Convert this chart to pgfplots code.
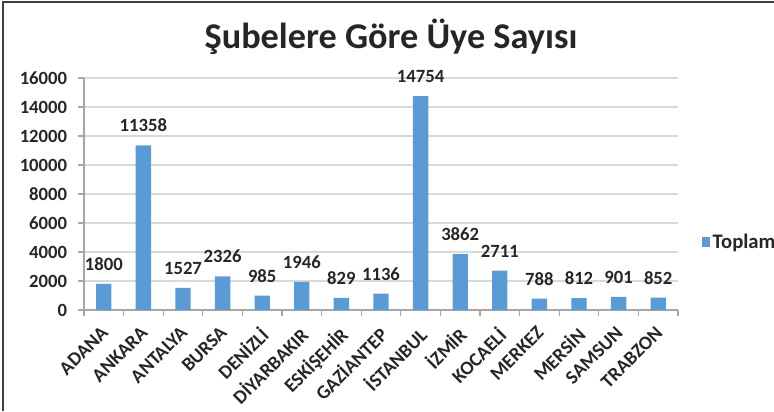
\documentclass[border=0pt]{standalone}
\usepackage{pgfplots}
\pgfplotsset{compat=1.18}
\usepackage{fontspec}
\setmainfont{Carlito}
\definecolor{barblue}{HTML}{5B9BD5}
\definecolor{gridgray}{HTML}{D9D9D9}
\definecolor{axgray}{HTML}{A6A6A6}
\definecolor{txt}{HTML}{262626}
\begin{document}
\begin{tikzpicture}[x=1pt,y=1pt]
\useasboundingbox (0,0) rectangle (580.5pt,308.25pt);
\draw[line width=1.3pt, black!75] (2.25pt,0) -- (2.25pt,306.9pt) -- (580.5pt,306.9pt);
\node[font=\bfseries\fontsize{27.2}{30}\selectfont, text=txt, anchor=base] at (293.25pt,271.5pt) {Şubelere Göre Üye Sayısı};
\begin{axis}[
  at={(63pt,75.75pt)}, anchor=south west,
  scale only axis, width=445.5pt, height=174pt,
  xmin=-0.5, xmax=14.5, ymin=0, ymax=16000,
  ytick={0,2000,...,16000},
  xtick={0,...,14},
  xticklabels={ADANA,ANKARA,ANTALYA,BURSA,DENİZLİ,DİYARBAKIR,ESKİŞEHİR,GAZİANTEP,İSTANBUL,İZMİR,KOCAELİ,MERKEZ,MERSİN,SAMSUN,TRABZON},
  minor xtick={-0.5,0.5,...,14.5},
  major x tick style={draw=none},
  minor tick length=4.5pt,
  major tick length=4.5pt,
  tick align=outside,
  tick style={axgray, line width=0.9pt},
  axis x line*=bottom, axis y line*=left,
  axis line style={axgray, line width=0.9pt, -},
  ymajorgrids, grid style={gridgray, line width=1.1pt},
  scaled y ticks=false,
  /pgf/number format/assume math mode=true,
  /pgf/number format/1000 sep={},
  yticklabel style={font=\bfseries\fontsize{14}{16}\selectfont, text=txt, inner sep=0pt, xshift=-8pt},
  xticklabel style={font=\bfseries\fontsize{14.5}{16}\selectfont, text=txt, rotate=45, anchor=north east, inner sep=0pt, yshift=-2.8pt, xshift=-6.6pt},
  ybar, bar width=11.5pt,
  nodes near coords,
  every node near coord/.append style={font=\bfseries\fontsize{14}{16}\selectfont, text=txt, anchor=base, yshift=10pt, inner sep=0pt},
  legend style={at={(1.04,0.293)}, anchor=west, draw=none, fill=none, inner sep=0pt, font=\bfseries\fontsize{15.5}{17}\selectfont, text=txt},
  legend image code/.code={\fill[barblue] (0pt,-3.5pt) rectangle (6pt,3.5pt);},
  clip=false,
]
\addplot[fill=barblue, draw=none] coordinates {
(0,1800) (1,11358) (2,1527) (3,2326) (4,985) (5,1946) (6,829) (7,1136)
(8,14754) (9,3862) (10,2711) (11,788) (12,812) (13,901) (14,852)};
\addlegendentry{Toplam}
\end{axis}
\end{tikzpicture}
\end{document}
